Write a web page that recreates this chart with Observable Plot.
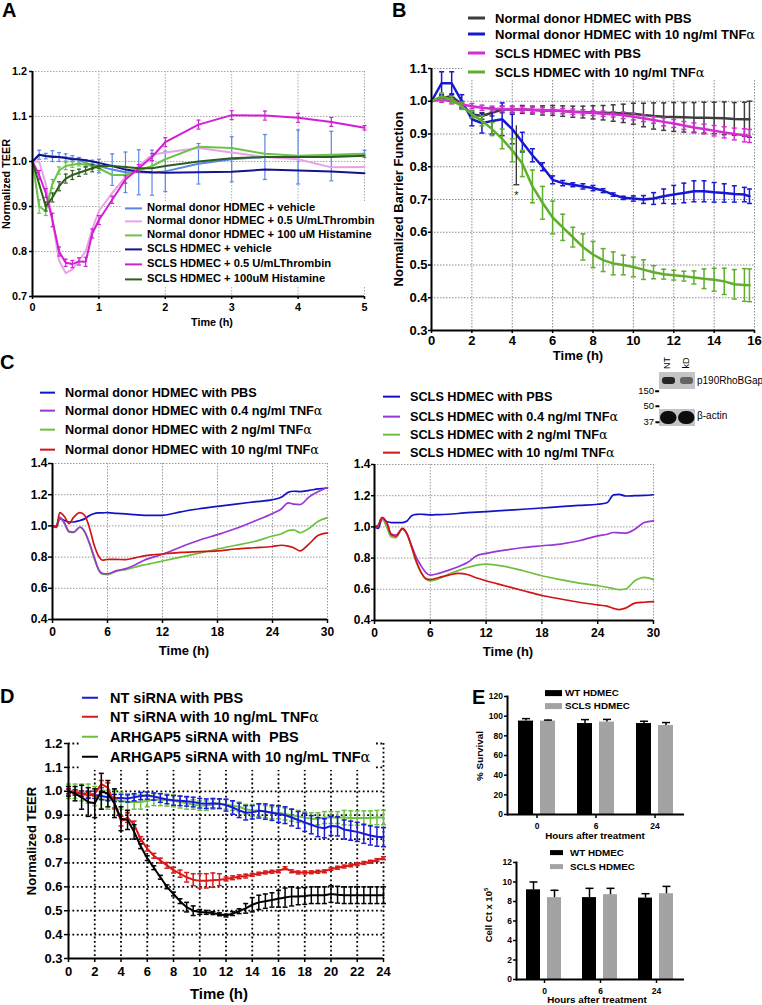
<!DOCTYPE html>
<html><head><meta charset="utf-8">
<script src="https://cdn.jsdelivr.net/npm/d3@7"></script>
<script src="https://cdn.jsdelivr.net/npm/@observablehq/plot@0.6"></script>
<style>
html,body{margin:0;padding:0;background:#fff;}
#fig{position:relative;width:762px;height:1005px;overflow:hidden;font-family:"Liberation Sans",Arial,sans-serif;font-weight:bold;color:#000;background:#fff;}
#fig div{position:absolute;white-space:pre;line-height:1;}
.c{transform:translate(-50%,-50%);}
.r{transform:translate(-50%,-50%) rotate(-90deg);}
.l{transform:translate(0,-50%);display:flex;align-items:center;}
.ra{transform:translate(-100%,-50%);display:flex;align-items:center;}
.sw{display:inline-block;flex:none;}
.alpha{font-weight:normal;font-family:"DejaVu Serif","Liberation Serif",serif;}
.nb{font-weight:normal;}
.bg{background:#fff;}
</style></head>
<body><div id="fig"></div>
<script>
// ---------------- Panel A data ----------------
const timeA = [0,0.1,0.2,0.3,0.4,0.5,0.6,0.7,0.8,0.9,1,1.2,1.4,1.6,1.8,2,2.5,3,3.5,4,4.5,5];
const aNormVeh    = [1.000,1.015,1.012,1.012,1.010,1.009,1.007,1.004,0.996,0.993,0.990,0.982,0.976,0.976,0.975,0.978,0.995,1.005,1.010,1.010,1.012,1.017];
const aNormVehErr = [0,0.010,0.006,0.012,0.010,0.008,0.006,0.005,0.008,0.010,0.015,0.035,0.045,0.050,0.050,0.045,0.045,0.050,0.050,0.060,0.055,0.008];
const aNormThr    = [1.000,1.000,0.950,0.870,0.780,0.752,0.760,0.780,0.800,0.850,0.890,0.930,0.965,0.990,1.015,1.020,1.030,1.020,1.010,1.005,0.987,0.988];
const aNormHis    = [1.000,0.900,0.890,0.950,0.980,0.990,0.993,0.995,0.993,0.990,0.985,0.970,0.970,0.980,0.990,1.005,1.033,1.030,1.017,1.013,1.015,1.017];
const aNormHisErr = [0,0.015,0.010,0.010,0.008,0.008,0.006,0.005,0.005,0.005,0.005,0,0,0,0,0,0,0,0,0,0,0];
const aSclsVeh    = [1.000,1.015,1.012,1.010,1.010,1.008,1.005,1.005,1.003,1.000,0.997,0.990,0.982,0.978,0.976,0.975,0.976,0.977,0.982,0.980,0.978,0.974];
const aSclsThr    = [1.000,0.970,0.930,0.870,0.800,0.775,0.772,0.778,0.777,0.840,0.870,0.915,0.960,0.985,1.010,1.043,1.082,1.103,1.102,1.097,1.088,1.075];
const aSclsThrErr = [0,0.010,0.010,0.015,0.010,0.008,0.008,0.008,0.010,0.010,0.010,0.008,0.008,0.008,0.008,0.010,0.010,0.010,0.010,0.010,0.010,0.005];
const aSclsHis    = [1.000,0.950,0.900,0.920,0.945,0.962,0.970,0.975,0.980,0.985,0.990,0.990,0.988,0.985,0.985,0.990,1.000,1.007,1.010,1.010,1.010,1.013];
const aSclsHisErr = [0,0,0.010,0.010,0.010,0.010,0.010,0.008,0.008,0.008,0.005,0,0,0,0,0,0,0,0,0,0,0];
const aNames  = ["Normal donor HDMEC + vehicle","Normal donor HDMEC + 0.5 U/mLThrombin","Normal donor HDMEC + 100 uM Histamine","SCLS HDMEC + vehicle","SCLS HDMEC + 0.5 U/mLThrombin","SCLS HDMEC + 100uM Histamine"];
const aColors = ["#5b86e5","#e8a2e8","#6cc24a","#15158a","#d41ed4","#2f5f1f"];
const aXTicks = [0,1,2,3,4,5];
const aYTicks = [0.7,0.8,0.9,1.0,1.1,1.2];

// ---------------- Panel B data ----------------
const timeB = [0,0.5,1,1.5,2,2.5,3,3.5,4,4.5,5,5.5,6,6.5,7,7.5,8,8.5,9,9.5,10,10.5,11,11.5,12,12.5,13,13.5,14,14.5,15,15.5,15.75];
const bNormPbs    = [1.000,1.010,1.015,0.990,0.960,0.955,0.965,0.975,0.975,0.975,0.973,0.972,0.972,0.970,0.968,0.967,0.966,0.965,0.964,0.963,0.962,0.958,0.955,0.953,0.952,0.951,0.950,0.950,0.949,0.948,0.946,0.945,0.945];
const bNormPbsErr = [0,0.008,0.008,0.010,0.010,0.010,0.010,0.010,0.010,0.012,0.012,0.014,0.015,0.016,0.017,0.018,0.020,0.022,0.025,0.028,0.032,0.036,0.040,0.042,0.044,0.045,0.046,0.047,0.048,0.050,0.050,0.052,0.055];
const bNormTnf    = [1.000,1.055,1.055,1.000,0.945,0.933,0.940,0.945,0.915,0.875,0.835,0.800,0.760,0.750,0.745,0.740,0.735,0.727,0.715,0.705,0.703,0.700,0.703,0.710,0.715,0.720,0.725,0.725,0.722,0.720,0.717,0.715,0.710];
const bNormTnfErr = [0,0.035,0.035,0.020,0.020,0.030,0.040,0.050,0.045,0.030,0.020,0.012,0.012,0.008,0.006,0.008,0.008,0.006,0.005,0.005,0.008,0.012,0.018,0.022,0.028,0.030,0.032,0.032,0.030,0.028,0.025,0.022,0.022];
const bSclsPbs    = [1.000,1.005,1.000,0.990,0.985,0.980,0.977,0.976,0.975,0.975,0.974,0.973,0.972,0.970,0.968,0.966,0.964,0.962,0.960,0.957,0.953,0.948,0.943,0.937,0.932,0.926,0.920,0.915,0.910,0.905,0.900,0.896,0.894];
const bSclsPbsErr = [0,0.008,0.008,0.008,0.008,0.008,0.008,0.008,0.008,0.008,0.008,0.008,0.008,0.008,0.008,0.008,0.008,0.008,0.008,0.010,0.010,0.010,0.010,0.012,0.012,0.012,0.014,0.015,0.016,0.017,0.018,0.020,0.020];
const bSclsTnf    = [1.000,1.015,1.005,0.985,0.960,0.940,0.915,0.885,0.850,0.810,0.740,0.690,0.645,0.615,0.585,0.555,0.532,0.515,0.505,0.500,0.494,0.486,0.478,0.472,0.469,0.466,0.462,0.458,0.455,0.450,0.441,0.439,0.438];
const bSclsTnfErr = [0,0.010,0.010,0.010,0.010,0.015,0.020,0.030,0.035,0.040,0.050,0.050,0.050,0.040,0.030,0.040,0.040,0.035,0.035,0.030,0.030,0.030,0.020,0.015,0.015,0.015,0.020,0.030,0.035,0.040,0.045,0.050,0.050];
const bSigTime = [4.2], bSigLow = [0.745], bSigHigh = [0.925], bSigStar = [0.712];
const bNames  = ["Normal donor HDMEC with PBS","Normal donor HDMEC with 10 ng/ml TNFα","SCLS HDMEC with PBS","SCLS HDMEC with 10 ng/ml TNFα"];
const bColors = ["#3d3d3d","#1818d0","#d22ed2","#5fae2e"];
const bXTicks = [0,2,4,6,8,10,12,14,16];
const bYTicks = [0.3,0.4,0.5,0.6,0.7,0.8,0.9,1.0,1.1];

// ---------------- Panel C data ----------------
const timeC = [0,0.4,0.8,1.3,1.8,2.3,3,3.5,4,4.5,5,5.5,6,7,8,9,10,11,12,14,16,18,20,22,24,25,25.7,26.3,27,28,29,30];
const cLPbs = [1.000,0.990,1.045,1.035,1.025,1.025,1.035,1.045,1.065,1.078,1.083,1.084,1.085,1.080,1.077,1.072,1.068,1.067,1.068,1.090,1.110,1.125,1.140,1.154,1.168,1.185,1.215,1.222,1.220,1.228,1.237,1.243];
const cL04  = [1.000,1.000,1.055,1.020,0.965,0.960,0.993,0.965,0.895,0.810,0.725,0.695,0.693,0.713,0.726,0.750,0.780,0.800,0.818,0.865,0.908,0.944,0.983,1.030,1.080,1.110,1.148,1.140,1.137,1.186,1.220,1.246];
const cL2   = [1.000,1.000,1.050,1.015,0.960,0.958,0.990,0.960,0.890,0.800,0.720,0.690,0.688,0.710,0.720,0.735,0.750,0.762,0.775,0.800,0.825,0.852,0.876,0.900,0.935,0.950,0.970,0.975,0.957,0.985,1.030,1.053];
const cL10  = [1.000,0.990,1.085,1.060,1.015,1.055,1.085,1.068,0.995,0.886,0.810,0.780,0.786,0.785,0.784,0.795,0.808,0.815,0.820,0.830,0.835,0.840,0.852,0.860,0.868,0.876,0.870,0.860,0.840,0.885,0.940,0.955];
const cRPbs = [1.000,0.990,1.049,1.035,1.028,1.028,1.028,1.038,1.072,1.080,1.081,1.079,1.077,1.079,1.081,1.086,1.091,1.095,1.098,1.106,1.113,1.121,1.130,1.138,1.145,1.155,1.205,1.209,1.198,1.200,1.202,1.206];
const cR04  = [1.000,1.010,1.060,1.030,0.955,0.948,0.985,0.953,0.879,0.804,0.751,0.709,0.691,0.704,0.723,0.745,0.772,0.815,0.830,0.851,0.868,0.879,0.890,0.911,0.943,0.953,0.964,0.962,0.960,0.985,1.028,1.038];
const cR2   = [1.000,1.010,1.055,1.000,0.935,0.930,0.989,0.953,0.868,0.772,0.709,0.666,0.655,0.670,0.698,0.720,0.740,0.755,0.762,0.747,0.719,0.687,0.662,0.640,0.623,0.613,0.604,0.598,0.602,0.655,0.677,0.662];
const cR10  = [1.000,1.010,1.060,1.030,0.950,0.940,0.990,0.955,0.870,0.780,0.710,0.670,0.662,0.677,0.691,0.702,0.695,0.672,0.655,0.623,0.591,0.560,0.538,0.517,0.500,0.492,0.478,0.470,0.479,0.511,0.517,0.521];
const cLeftNames  = ["Normal donor HDMEC with PBS","Normal donor HDMEC with 0.4 ng/ml TNFα","Normal donor HDMEC with 2 ng/ml TNFα","Normal donor HDMEC with 10 ng/ml TNFα"];
const cRightNames = ["SCLS HDMEC with PBS","SCLS HDMEC with 0.4 ng/ml TNFα","SCLS HDMEC with 2 ng/ml TNFα","SCLS HDMEC with 10 ng/ml TNFα"];
const cColors = ["#1212c8","#9a35d6","#6cc03c","#d01515"];
const cXTicks = [0,6,12,18,24,30];
const cYTicks = [0.4,0.6,0.8,1.0,1.2,1.4];

// ---------------- Western blot (inset) ----------------
const blotLanes = ["NT","kD"];
const blotRows = ["p190RhoBGap","β-actin"];
const blotSignal = [[0.9,0.55],[1,1]];
const blotMarkers = ["150","50","37"];

// ---------------- Panel D data ----------------
const timeD = [0,0.5,1,1.5,2,2.5,3,3.5,4,4.5,5,5.5,6,6.5,7,7.5,8,8.5,9,9.5,10,10.5,11,11.5,12,12.5,13,13.5,14,14.5,15,15.5,16,16.5,17,17.5,18,18.5,19,19.5,20,20.5,21,21.5,22,22.5,23,23.5,24];
const dNtPbs     = [1.000,0.995,0.990,0.985,0.985,0.980,0.975,0.972,0.972,0.970, 0.975,0.980,0.982,0.978,0.972,0.966,0.962,0.960,0.958,0.955, 0.950,0.948,0.950,0.948,0.942,0.932,0.920,0.910,0.912,0.918, 0.915,0.910,0.905,0.900,0.890,0.880,0.870,0.860,0.850,0.845, 0.855,0.853,0.840,0.835,0.830,0.822,0.815,0.810,0.808];
const dNtPbsErr  = [0.010,0.012,0.012,0.015,0.015,0.015,0.015,0.015,0.015,0.015, 0.015,0.015,0.015,0.015,0.018,0.018,0.020,0.020,0.020,0.020, 0.020,0.020,0.020,0.020,0.025,0.028,0.030,0.030,0.028,0.030, 0.032,0.032,0.035,0.035,0.035,0.035,0.038,0.038,0.040,0.040, 0.040,0.040,0.040,0.040,0.040,0.040,0.040,0.040,0.040];
const dNtTnf     = [1.000,0.995,0.990,0.985,0.990,1.030,1.015,0.950,0.875,0.890, 0.860,0.800,0.760,0.730,0.710,0.690,0.670,0.655,0.640,0.630, 0.625,0.625,0.628,0.630,0.633,0.638,0.642,0.645,0.650,0.655, 0.660,0.663,0.665,0.678,0.665,0.660,0.660,0.661,0.663,0.665, 0.675,0.680,0.685,0.690,0.695,0.700,0.705,0.712,0.720];
const dNtTnfErr  = [0.010,0.010,0.010,0.010,0.010,0.015,0.020,0.020,0.020,0.020, 0.015,0.010,0.010,0.010,0.010,0.012,0.012,0.015,0.020,0.025, 0.030,0.030,0.030,0.025,0.008,0.008,0.008,0.008,0.006,0.006, 0.006,0.006,0.006,0.006,0.006,0.006,0.006,0.006,0.006,0.006, 0.006,0.006,0.006,0.006,0.006,0.006,0.006,0.006,0.006];
const dArhPbs    = [1.000,1.000,0.995,0.990,0.980,0.965,0.965,0.965,0.960,0.955, 0.955,0.955,0.960,0.965,0.965,0.963,0.960,0.955,0.950,0.945, 0.940,0.940,0.945,0.948,0.945,0.940,0.935,0.925,0.920,0.920, 0.915,0.910,0.910,0.905,0.900,0.895,0.890,0.885,0.885,0.890, 0.890,0.890,0.890,0.888,0.888,0.888,0.888,0.890,0.890];
const dArhPbsErr = [0.030,0.030,0.035,0.040,0.040,0.040,0.040,0.040,0.035,0.035, 0.030,0.030,0.025,0.025,0.025,0.025,0.025,0.025,0.025,0.020, 0.020,0.020,0.020,0.020,0.020,0.020,0.020,0.020,0.025,0.025, 0.025,0.025,0.025,0.025,0.025,0.025,0.025,0.025,0.025,0.025, 0.025,0.025,0.030,0.030,0.030,0.030,0.030,0.030,0.030];
const dArhTnf    = [1.000,0.990,0.975,0.955,0.950,1.000,0.990,0.950,0.885,0.880, 0.830,0.770,0.720,0.680,0.640,0.600,0.570,0.540,0.515,0.500, 0.495,0.493,0.490,0.485,0.480,0.488,0.498,0.510,0.525,0.535, 0.540,0.545,0.550,0.555,0.560,0.560,0.562,0.565,0.565,0.565, 0.570,0.567,0.565,0.565,0.565,0.565,0.565,0.565,0.565];
const dArhTnfErr = [0.020,0.030,0.050,0.060,0.060,0.075,0.055,0.060,0.050,0.040, 0.030,0.010,0.010,0.008,0.008,0.008,0.008,0.010,0.020,0.020, 0.010,0.008,0.006,0.006,0.006,0.008,0.010,0.020,0.030,0.030, 0.030,0.030,0.035,0.040,0.040,0.035,0.035,0.035,0.035,0.035, 0.035,0.035,0.035,0.035,0.035,0.035,0.035,0.035,0.035];
const dNames  = ["NT siRNA with PBS","NT siRNA with 10 ng/mL TNFα","ARHGAP5 siRNA with  PBS","ARHGAP5 siRNA with 10 ng/mL TNFα"];
const dColors = ["#1a1ad8","#d81a1a","#6cc040","#000000"];
const dXTicks = [0,2,4,6,8,10,12,14,16,18,20,22,24];
const dYTicks = [0.3,0.4,0.5,0.6,0.7,0.8,0.9,1.0,1.1,1.2];

// ---------------- Panel E data ----------------
const eHours  = ["0","6","24"];
const eGroups = ["WT HDMEC","SCLS HDMEC"];
const eColors = ["#000000","#a3a3a3"];
const eSurvWT = [95, 92.5, 92.5],  eSurvWTErr = [2.5, 4, 2.3];
const eSurvSC = [95, 94, 90.5],    eSurvSCErr = [1, 2.7, 3];
const eCountWT = [9.2, 8.4, 8.35], eCountWTErr = [0.8, 0.95, 0.45];
const eCountSC = [8.4, 8.7, 8.8],  eCountSCErr = [0.75, 0.65, 0.75];
const eSurvTicks = [0,20,40,60,80,100,120];
const eCountTicks = [0,2,4,6,8,10,12];

// ================= drawing =================
const FIG = document.getElementById("fig");
const FONT = "'Liberation Sans', Arial, sans-serif";
const cap = {draw(ctx, size){ const r = Math.sqrt(size/Math.PI); ctx.moveTo(-r,0); ctx.lineTo(r,0); }};
const fmt1 = d3.format(".1f");
const alpha = s => s.replace("α", '<span class="alpha">α</span>');

function place(svg, left, top){
  svg.style.position = "absolute"; svg.style.left = left + "px"; svg.style.top = top + "px";
  FIG.appendChild(svg);
}
function txt(html, x, y, cls, size, extra){
  const d = document.createElement("div");
  d.className = cls; d.innerHTML = html;
  d.style.left = x + "px"; d.style.top = y + "px"; d.style.fontSize = size + "px";
  if (extra) Object.assign(d.style, extra);
  FIG.appendChild(d);
}
function box(x, y, w, h){
  const d = document.createElement("div");
  d.className = "bg";
  Object.assign(d.style, {left: x + "px", top: y + "px", width: w + "px", height: h + "px"});
  FIG.appendChild(d);
}
function legend(names, colors, x, rows, swW, swH, gap, size){
  names.forEach((n, i) => {
    txt(`<span class="sw" style="width:${swW}px;height:${swH}px;background:${colors[i]};margin-right:${gap}px"></span><span>${alpha(n)}</span>`, x, rows[i], "l", size);
  });
}

function linePanel(o){
  const marks = [];
  const g = {stroke: o.gridColor, strokeWidth: o.gridW, strokeDasharray: o.dash};
  marks.push(Plot.ruleX(o.gridX, g));
  marks.push(Plot.ruleY(o.gridY, g));
  o.series.forEach(s => {
    const rows = s.times.map((t, i) => ({t, v: s.values[i], e: s.errors ? s.errors[i] : 0}));
    marks.push(Plot.line(rows, {x: "t", y: "v", stroke: s.color, strokeWidth: o.lineW, curve: o.curve || "linear"}));
    const eb = rows.filter(d => d.e > 0);
    if (eb.length) {
      marks.push(Plot.ruleX(eb, {x: "t", y1: d => d.v - d.e, y2: d => d.v + d.e, stroke: s.color, strokeWidth: o.errW}));
      marks.push(Plot.dot(eb, {x: "t", y: d => d.v + d.e, symbol: cap, r: o.capR, stroke: s.color, strokeWidth: o.errW}));
      marks.push(Plot.dot(eb, {x: "t", y: d => d.v - d.e, symbol: cap, r: o.capR, stroke: s.color, strokeWidth: o.errW}));
    }
  });
  if (o.extra) marks.push(...o.extra);
  marks.push(Plot.ruleX([o.xDomain[0]], {stroke: "#000", strokeWidth: 2}));
  marks.push(Plot.ruleY([o.yDomain[0]], {stroke: "#000", strokeWidth: 2}));
  marks.push(Plot.axisX({ticks: o.xTicks, tickFormat: d => String(d), tickSize: o.xts[0], tickPadding: o.xts[1], label: null, fontSize: o.fs, strokeWidth: 1.5}));
  marks.push(Plot.axisY({ticks: o.yTicks, tickFormat: fmt1, tickSize: o.yts[0], tickPadding: o.yts[1], label: null, fontSize: o.fs, strokeWidth: 1.5}));
  const svg = Plot.plot({
    width: o.width, height: o.height,
    marginLeft: o.m[0], marginRight: o.m[1], marginTop: o.m[2], marginBottom: o.m[3],
    x: {domain: o.xDomain}, y: {domain: o.yDomain},
    style: {fontFamily: FONT, fontWeight: "bold", fontSize: o.fs + "px", background: "none", overflow: "visible", color: "#000"},
    marks
  });
  place(svg, o.left, o.top);
}

// ---- Panel A ----
const aVals = [aNormVeh, aNormThr, aNormHis, aSclsVeh, aSclsThr, aSclsHis];
const aErrs = [aNormVehErr, null, aNormHisErr, null, aSclsThrErr, aSclsHisErr];
linePanel({
  left: 0, top: 60, width: 380, height: 270, m: [32, 16, 11, 34],
  xDomain: [0, 5], yDomain: [0.7, 1.2], xTicks: aXTicks, yTicks: aYTicks,
  gridX: aXTicks.slice(1), gridY: aYTicks.slice(1), gridColor: "#a8a8a8", gridW: 1, dash: "1.5,1.5",
  series: aVals.map((v, i) => ({times: timeA, values: v, errors: aErrs[i], color: aColors[i]})),
  lineW: 2, errW: 1.2, capR: 2, fs: 10.8, xts: [3, 4], yts: [3, 2.5]
});

// ---- Panel B ----
const bVals = [bNormPbs, bNormTnf, bSclsPbs, bSclsTnf];
const bErrs = [bNormPbsErr, bNormTnfErr, bSclsPbsErr, bSclsTnfErr];
const bSig = bSigTime.map((t, i) => ({t, lo: bSigLow[i], hi: bSigHigh[i], star: bSigStar[i]}));
linePanel({
  left: 380, top: 40, width: 382, height: 320, m: [51, 8, 28, 30],
  xDomain: [0, 16], yDomain: [0.3, 1.1], xTicks: bXTicks, yTicks: bYTicks,
  gridX: bXTicks.slice(1), gridY: bYTicks.slice(1), gridColor: "#8a8a8a", gridW: 1, dash: "1.5,1.5",
  series: bVals.map((v, i) => ({times: timeB, values: v, errors: bErrs[i], color: bColors[i]})),
  lineW: 2.5, errW: 1.5, capR: 2.5, fs: 13, xts: [3, 2], yts: [3, 1],
  extra: [
    Plot.ruleX(bSig, {x: "t", y1: "lo", y2: "hi", stroke: "#222", strokeWidth: 1.2}),
    Plot.dot(bSig, {x: "t", y: "lo", symbol: cap, r: 3, stroke: "#222", strokeWidth: 1.2}),
    Plot.text(bSig, {x: "t", y: "star", text: () => "*", fontSize: 11, fontWeight: "normal", fill: "#222"})
  ]
});

// ---- Panel C ----
const cOrder = [0, 2, 1, 3];
const cLVals = [cLPbs, cL04, cL2, cL10], cRVals = [cRPbs, cR04, cR2, cR10];
const cCommon = {xDomain: [0, 30], yDomain: [0.4, 1.4], xTicks: cXTicks, yTicks: cYTicks,
  gridX: cXTicks.slice(1), gridY: cYTicks.slice(1), gridColor: "#9a9a9a", gridW: 1, dash: "1.5,1.5",
  lineW: 1.7, errW: 1, capR: 2, fs: 12, xts: [4, 4], curve: "monotone-x"};
linePanel({...cCommon, left: 0, top: 440, width: 340, height: 209, m: [52, 13, 23, 30], yts: [4, 1],
  series: cOrder.map(i => ({times: timeC, values: cLVals[i], color: cColors[i]}))});
linePanel({...cCommon, left: 330, top: 440, width: 340, height: 209, m: [44, 17, 24, 29], yts: [3, 1],
  series: cOrder.map(i => ({times: timeC, values: cRVals[i], color: cColors[i]}))});

// ---- Panel D ----
const dVals = [dNtPbs, dNtTnf, dArhPbs, dArhTnf];
const dErrs = [dNtPbsErr, dNtTnfErr, dArhPbsErr, dArhTnfErr];
const dOrder = [2, 0, 1, 3];
linePanel({
  left: 0, top: 725, width: 400, height: 265, m: [68, 17, 18, 32],
  xDomain: [0, 24], yDomain: [0.3, 1.2], xTicks: dXTicks, yTicks: dYTicks,
  gridX: dXTicks.slice(1), gridY: dYTicks.slice(1), gridColor: "#000", gridW: 1.8, dash: "1.8,2.6",
  series: dOrder.map(i => ({times: timeD, values: dVals[i], errors: dErrs[i], color: dColors[i]})),
  lineW: 2, errW: 1.5, capR: 2.5, fs: 13, xts: [4, 4], yts: [4, 2]
});

// ---- Panel E ----
function barPanel(o){
  const rows = eHours.flatMap((h, i) => [
    {hour: h, group: eGroups[0], v: o.wt[i], e: o.wtErr[i]},
    {hour: h, group: eGroups[1], v: o.sc[i], e: o.scErr[i]}
  ]);
  const svg = Plot.plot({
    width: 230, height: 150, marginLeft: o.m[0], marginRight: o.m[1], marginTop: o.m[2], marginBottom: o.m[3],
    fx: {domain: eHours, padding: 0},
    x: {domain: eGroups, paddingInner: 0.33, paddingOuter: 0.46, axis: null},
    y: {domain: o.yDomain},
    color: {domain: eGroups, range: eColors},
    style: {fontFamily: FONT, fontWeight: "bold", fontSize: "8.5px", background: "none", overflow: "visible", color: "#000"},
    marks: [
      Plot.barY(rows, {fx: "hour", x: "group", y: "v", fill: "group"}),
      Plot.ruleX(rows, {fx: "hour", x: "group", y1: "v", y2: d => d.v + d.e, stroke: "#000", strokeWidth: 1.5}),
      Plot.dot(rows, {fx: "hour", x: "group", y: d => d.v + d.e, symbol: cap, r: 4, stroke: "#000", strokeWidth: 1.5}),
      Plot.ruleY([o.yDomain[0]], {stroke: "#000", strokeWidth: 2}),
      Plot.frame({anchor: "left", stroke: "#000", strokeWidth: 2, facetAnchor: "left"}),
      Plot.axisY({ticks: o.yTicks, tickSize: 3, tickPadding: 1.5, label: null, fontSize: 8.5, strokeWidth: 1.5}),
      Plot.axisFx({anchor: "bottom", tickSize: 4, tickPadding: 4, label: null, fontSize: 8.5, strokeWidth: 1.5})
    ]
  });
  place(svg, o.left, o.top);
}
barPanel({left: 470, top: 686, m: [36, 15, 10, 22], yDomain: [0, 120], yTicks: eSurvTicks,
  wt: eSurvWT, wtErr: eSurvWTErr, sc: eSurvSC, scErr: eSurvSCErr});
barPanel({left: 470, top: 850, m: [45, 15, 12, 21], yDomain: [0, 12], yTicks: eCountTicks,
  wt: eCountWT, wtErr: eCountWTErr, sc: eCountSC, scErr: eCountSCErr});

// ---- Western blot inset ----
{
  const cells = blotRows.flatMap((r, i) => blotLanes.map((l, j) => ({lane: l, row: r, s: blotSignal[i][j]})));
  const svg = Plot.plot({
    width: 50, height: 70, marginLeft: 8, marginRight: 5, marginTop: 7, marginBottom: 8,
    x: {domain: blotLanes, padding: 0, axis: null},
    y: {domain: blotRows, paddingInner: 0.53, paddingOuter: 0, axis: null},
    opacity: {domain: [0, 1]},
    style: {background: "none", overflow: "visible"},
    marks: [
      Plot.cell(cells, {x: "lane", y: "row", fill: "#c4c4c4"}),
      Plot.cell(cells.filter(d => d.row === blotRows[0]), {x: "lane", y: "row", fill: "#151515", fillOpacity: "s", insetTop: 5, insetBottom: 5, insetLeft: 3, insetRight: 2, rx: 3}),
      Plot.cell(cells.filter(d => d.row === blotRows[1]), {x: "lane", y: "row", fill: "#0d0d0d", fillOpacity: "s", insetTop: 2, insetBottom: 2, insetLeft: 1, insetRight: 0.5, rx: 7})
    ]
  });
  place(svg, 650, 365);
  txt(blotLanes[0], 667, 363, "r nb", 9);
  txt(blotLanes[1], 686, 363, "r nb", 9);
  txt(blotRows[0], 697, 381, "l nb", 10);
  txt(blotRows[1], 697, 416, "l nb", 10);
  const mk = [391, 406, 422];
  blotMarkers.forEach((m, i) => txt(`${m}<span class="sw" style="width:4px;height:2px;background:#000;margin-left:1px"></span>`, 659, mk[i], "ra nb", 9.5));
}

// ---- Legend backgrounds (cover gridlines behind legends as in the original) ----
box(122, 201, 256, 86);
box(462, 0, 300, 80);
box(80, 686, 294, 84);

// ---- Text: letters, axis titles, legends ----
txt("A", 2, 0, "", 20);
txt("B", 392, 0, "", 20);
txt("C", 0, 352, "", 20);
txt("D", 0, 686, "", 20);
txt("E", 472, 687, "", 20);

txt("Time (h)", 212, 322, "c", 10.8);
txt("Normalized TEER", 6, 184, "r", 10.8);
txt("Time (h)", 578, 355, "c", 13);
txt("Normalized Barrier Function", 398, 199, "r", 13);
txt("Time (h)", 184, 650, "c", 13);
txt("Time (h)", 508, 651, "c", 13);
txt("Time (h)", 219, 993, "c", 15);
txt("Normalized TEER", 31, 841, "r", 13);
txt("Hours after treatment", 595, 836, "c", 9.8);
txt("% Survival", 480, 756, "r", 9.9);
txt("Hours after treatment", 597, 1000, "c", 9.8);
txt("Cell Ct x 10<sup style='font-size:6px'>5</sup>", 488, 915, "r", 9.5);

legend(aNames, aColors, 125, [208, 221, 235, 249, 264, 279], 17, 2, 5, 11.2);
legend(bNames, bColors, 468, [18, 34, 53, 72], 17, 2.5, 10, 13);
legend(cLeftNames, cColors, 40, [393, 411, 430, 450], 15, 2, 10, 12.7);
legend(cRightNames, cColors, 383, [397, 417, 435, 453], 17, 2, 10, 12.7);
legend(dNames, dColors, 82, [698, 717, 737, 757], 16, 2, 12, 14.5);
legend(eGroups, eColors, 545, [693, 706], 17, 6, 3, 9.8);
legend(eGroups, eColors, 550, [853, 867], 13, 5, 7, 9.8);
</script></body></html>
